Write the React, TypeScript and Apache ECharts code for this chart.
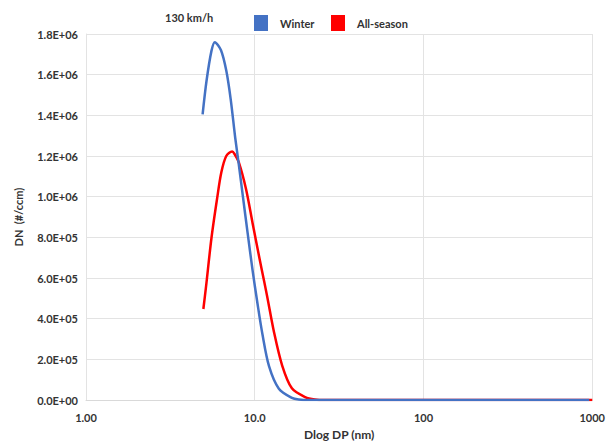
import React, { useEffect, useRef } from "react";
import * as echarts from "echarts";

const xTickLabels: Record<number, string> = { 1: "1.00", 10: "10.0", 100: "100", 1000: "1000" };

const winterDp = [4.91, 5.18, 5.54, 5.8, 6.31, 6.78, 7.2, 7.66, 8.04, 8.51, 9.08, 9.7, 10.38, 11.1, 12.15, 13.9, 16.6, 18.2, 21, 30, 50, 100, 200, 500, 960];
const winterDn = [1.405e6, 1.57e6, 1.717e6, 1.76e6, 1.72e6, 1.62e6, 1.48e6, 1.29e6, 1.16e6, 1.0e6, 8.2e5, 6.4e5, 4.75e5, 3.25e5, 1.67e5, 5.6e4, 1.1e4, 3e3, 0, 0, 0, 0, 0, 0, 0];

const allSeasonDp = [4.96, 5.14, 5.54, 5.98, 6.34, 6.78, 7.35, 7.59, 8.04, 8.87, 9.71, 10.62, 11.36, 11.88, 13.0, 14.54, 16.6, 19.9, 22.7, 26, 40, 80, 150, 300, 600, 1000];
const allSeasonDn = [4.48e5, 5.55e5, 7.97e5, 9.9e5, 1.12e6, 1.2e6, 1.222e6, 1.21e6, 1.17e6, 1.039e6, 8.7e5, 7.05e5, 5.85e5, 5.05e5, 3.35e5, 1.7e5, 5.8e4, 1.5e4, 3e3, 0, 0, 0, 0, 0, 0, 0];

const seriesNames = ["Winter", "All-season"];
const speedLabel = "130 km/h";

function fmtY(v: number): string {
  if (v === 0) return "0.0E+00";
  const e = Math.floor(Math.log10(v) + 1e-9);
  const m = v / Math.pow(10, e);
  return m.toFixed(1) + "E+" + String(e).padStart(2, "0");
}

export default function App() {
  const ref = useRef<HTMLDivElement>(null);
  useEffect(() => {
    if (!ref.current) return;
    const chart = echarts.init(ref.current, null, { renderer: "svg" });
    const font = "Lato, 'Open Sans', sans-serif";
    const legendText = { fontSize: 11, fontWeight: "bold", color: "#333", fontFamily: font, padding: [0, 0, 0, 7] };
    chart.setOption({
      animation: false,
      backgroundColor: "#ffffff",
      textStyle: { fontFamily: font },
      grid: { left: 86, right: 13, top: 34, bottom: 37 },
      legend: [
        {
          data: [{ name: seriesNames[0], icon: "rect" }],
          left: 249,
          top: 10,
          itemWidth: 14,
          itemHeight: 16,
          textStyle: legendText,
        },
        {
          data: [{ name: seriesNames[1], icon: "rect" }],
          left: 326,
          top: 10,
          itemWidth: 14,
          itemHeight: 16,
          textStyle: legendText,
        },
      ],
      graphic: [
        {
          type: "text",
          left: 165,
          top: 12,
          style: { text: speedLabel, fontSize: 11, fontWeight: "bold", fill: "#333", fontFamily: font },
        },
      ],
      xAxis: {
        type: "log",
        logBase: 10,
        min: 1,
        max: 1000,
        name: "Dlog DP (nm)",
        nameLocation: "middle",
        nameGap: 26,
        nameTextStyle: { fontSize: 12, fontWeight: "bold", color: "#333" },
        axisLine: { show: true, lineStyle: { color: "#d9d9d9" } },
        axisTick: { show: false },
        minorTick: { show: false },
        splitLine: { show: true, lineStyle: { color: "#e3e3e3" } },
        axisLabel: {
          fontSize: 11,
          fontWeight: "bold",
          color: "#333",
          margin: 12,
          formatter: (v: number) => xTickLabels[Math.round(v)] ?? "",
        },
      },
      yAxis: {
        type: "value",
        min: 0,
        max: 1.8e6,
        interval: 2e5,
        name: "DN  (#/ccm)",
        nameLocation: "middle",
        nameGap: 62,
        nameTextStyle: { fontSize: 11, fontWeight: "bold", color: "#333" },
        axisLine: { show: true, lineStyle: { color: "#e3e3e3" } },
        axisTick: { show: false },
        splitLine: { show: true, lineStyle: { color: "#e3e3e3" } },
        axisLabel: { fontSize: 11, fontWeight: "bold", color: "#333", margin: 8, formatter: fmtY },
      },
      series: [
        {
          name: seriesNames[1],
          type: "line",
          smooth: 0.3,
          showSymbol: false,
          color: "#ff0000",
          lineStyle: { width: 2.5, color: "#ff0000" },
          data: allSeasonDp.map((d, i) => [d, allSeasonDn[i]]),
          z: 2,
        },
        {
          name: seriesNames[0],
          type: "line",
          smooth: 0.3,
          showSymbol: false,
          color: "#4472c4",
          lineStyle: { width: 2.5, color: "#4472c4" },
          data: winterDp.map((d, i) => [d, winterDn[i]]),
          z: 3,
        },
      ],
    });
    return () => chart.dispose();
  }, []);
  return <div ref={ref} style={{ position: "fixed", left: 0, top: 0, width: 608, height: 445 }} />;
}
